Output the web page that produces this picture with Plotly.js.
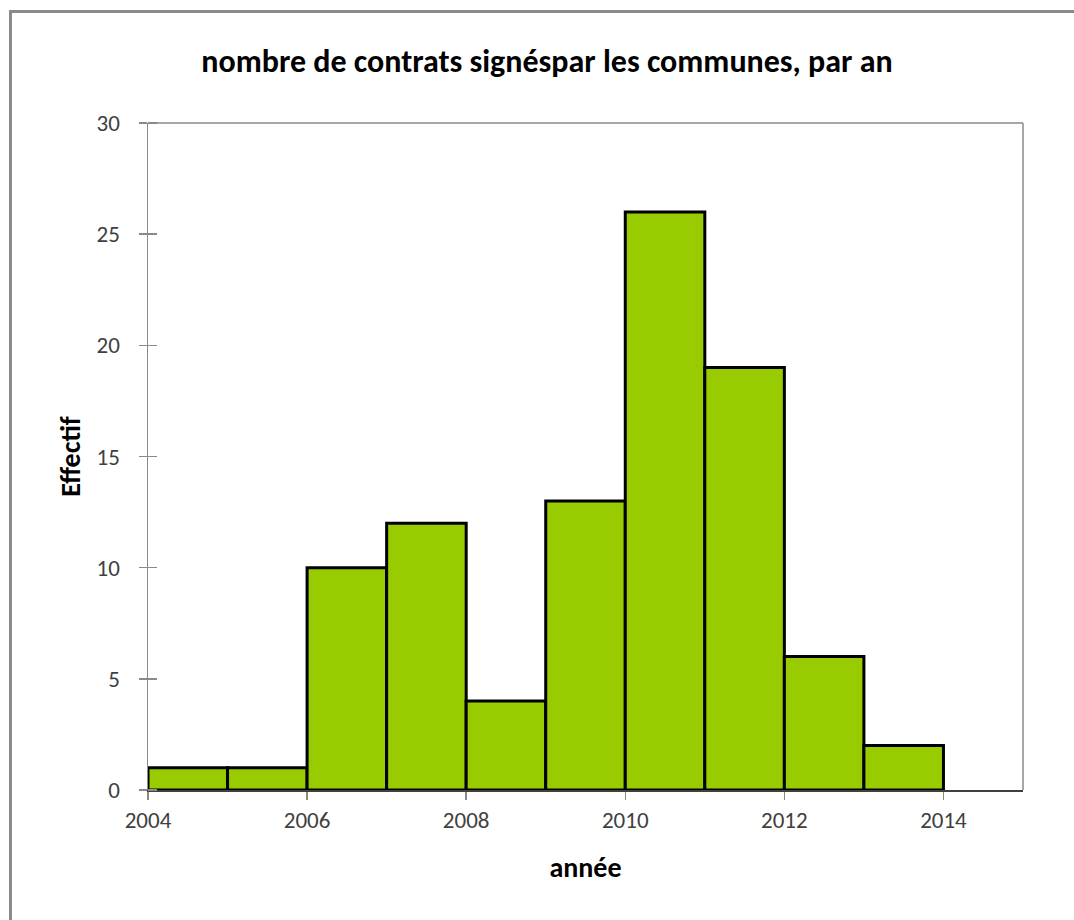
<!DOCTYPE html>
<html>
<head>
<meta charset="utf-8">
<script src="https://cdn.plot.ly/plotly-3.0.1.min.js"></script>
<style>
html,body{margin:0;padding:0;background:#fff;}
#wrap{position:relative;width:1074px;height:920px;overflow:hidden;}
#chart{width:1074px;height:920px;}
#frame{position:absolute;left:9px;top:10px;width:1200px;height:1000px;border-left:3px solid #8a8a8a;border-top:3px solid #8a8a8a;pointer-events:none;}
</style>
</head>
<body>
<div id="wrap">
<div id="chart"></div>
<div id="frame"></div>
</div>
<script>
const years = [2004, 2005, 2006, 2007, 2008, 2009, 2010, 2011, 2012, 2013];
const counts = [1, 1, 10, 12, 4, 13, 26, 19, 6, 2];
const xTicks = [2004, 2006, 2008, 2010, 2012, 2014];
const yTicks = [0, 5, 10, 15, 20, 25, 30];

const font = "Carlito, Lato, 'Open Sans', sans-serif";

const trace = {
  type: 'bar',
  x: years,
  y: counts,
  offset: 0,
  width: 1,
  marker: {color: '#99CC00', line: {color: '#000000', width: 3}},
  hoverinfo: 'x+y'
};

const layout = {
  width: 1074,
  height: 920,
  margin: {l: 148, r: 51, t: 123, b: 130},
  paper_bgcolor: '#ffffff',
  plot_bgcolor: '#ffffff',
  showlegend: false,
  title: {
    text: '<b>nombre de contrats signéspar les communes, par an</b>',
    font: {family: font, size: 32, color: '#000000'},
    x: 0.456, xanchor: 'center', xref: 'paper',
    y: 0.934, yanchor: 'middle', yref: 'container'
  },
  xaxis: {
    range: [2004, 2015],
    tickvals: xTicks,
    ticktext: xTicks.map(String),
    ticks: 'outside', ticklen: 8, tickwidth: 1.5, tickcolor: '#8a8a8a',
    ticklabelstandoff: 1,
    showline: true, linecolor: '#404040', linewidth: 1.5,
    showgrid: false, zeroline: false,
    tickfont: {family: font, size: 23, color: '#404040'},
    title: {text: '<b>année</b>', font: {family: font, size: 28, color: '#000000'}, standoff: 24}
  },
  yaxis: {
    range: [0, 30],
    tickvals: yTicks,
    ticks: 'outside', ticklen: 8, tickwidth: 1.5, tickcolor: '#8a8a8a',
    ticklabelstandoff: 14,
    minor: {tickvals: yTicks, ticks: 'inside', ticklen: 9, tickwidth: 1.5, tickcolor: '#8a8a8a', showgrid: false},
    showline: true, linecolor: '#8a8a8a', linewidth: 1.5,
    showgrid: false, zeroline: false,
    tickfont: {family: font, size: 23, color: '#404040'},
    title: {text: '<b>Effectif</b>', font: {family: font, size: 28, color: '#000000'}, standoff: 8}
  },
  shapes: [
    {type: 'line', xref: 'paper', yref: 'paper', x0: 0, x1: 1, y0: 1, y1: 1, line: {color: '#8a8a8a', width: 1.5}},
    {type: 'line', xref: 'paper', yref: 'paper', x0: 1, x1: 1, y0: 0, y1: 1, line: {color: '#8a8a8a', width: 1.5}}
  ],
  bargap: 0
};

Plotly.newPlot('chart', [trace], layout, {displayModeBar: false, staticPlot: true});
</script>
</body>
</html>
